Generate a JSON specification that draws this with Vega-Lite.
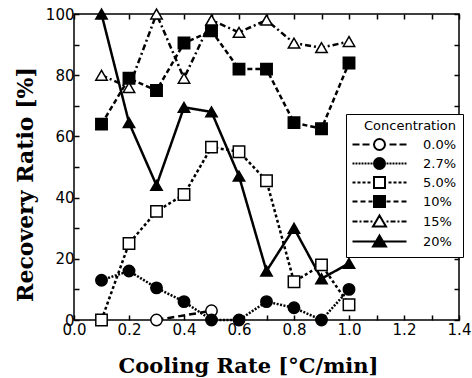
{
  "$schema": "https://vega.github.io/schema/vega-lite/v6.json",
  "width": 385,
  "height": 306,
  "autosize": "none",
  "padding": {"left": 74, "top": 14, "right": 13, "bottom": 58},
  "background": "white",
  "config": {"view": {"stroke": "black", "strokeWidth": 1.5}, "font": "DejaVu Sans"},
  "data": {"values": [
    {"x": 0.3, "y": 0, "c": "0.0%"}, {"x": 0.5, "y": 3, "c": "0.0%"},
    {"x": 0.1, "y": 13, "c": "2.7%"}, {"x": 0.2, "y": 16, "c": "2.7%"}, {"x": 0.3, "y": 10.5, "c": "2.7%"}, {"x": 0.4, "y": 6, "c": "2.7%"}, {"x": 0.5, "y": 0, "c": "2.7%"}, {"x": 0.6, "y": 0, "c": "2.7%"}, {"x": 0.7, "y": 6, "c": "2.7%"}, {"x": 0.8, "y": 4, "c": "2.7%"}, {"x": 0.9, "y": 0, "c": "2.7%"}, {"x": 1.0, "y": 10, "c": "2.7%"},
    {"x": 0.1, "y": 0, "c": "5.0%"}, {"x": 0.2, "y": 25, "c": "5.0%"}, {"x": 0.3, "y": 35.5, "c": "5.0%"}, {"x": 0.4, "y": 41, "c": "5.0%"}, {"x": 0.5, "y": 56.5, "c": "5.0%"}, {"x": 0.6, "y": 55, "c": "5.0%"}, {"x": 0.7, "y": 45.5, "c": "5.0%"}, {"x": 0.8, "y": 12.5, "c": "5.0%"}, {"x": 0.9, "y": 18, "c": "5.0%"}, {"x": 1.0, "y": 5, "c": "5.0%"},
    {"x": 0.1, "y": 64, "c": "10%"}, {"x": 0.2, "y": 79, "c": "10%"}, {"x": 0.3, "y": 75, "c": "10%"}, {"x": 0.4, "y": 90.5, "c": "10%"}, {"x": 0.5, "y": 94.5, "c": "10%"}, {"x": 0.6, "y": 82, "c": "10%"}, {"x": 0.7, "y": 82, "c": "10%"}, {"x": 0.8, "y": 64.5, "c": "10%"}, {"x": 0.9, "y": 62.5, "c": "10%"}, {"x": 1.0, "y": 84, "c": "10%"},
    {"x": 0.1, "y": 80, "c": "15%"}, {"x": 0.2, "y": 76, "c": "15%"}, {"x": 0.3, "y": 100, "c": "15%"}, {"x": 0.4, "y": 79, "c": "15%"}, {"x": 0.5, "y": 98, "c": "15%"}, {"x": 0.6, "y": 94, "c": "15%"}, {"x": 0.7, "y": 98, "c": "15%"}, {"x": 0.8, "y": 90.5, "c": "15%"}, {"x": 0.9, "y": 89, "c": "15%"}, {"x": 1.0, "y": 91, "c": "15%"},
    {"x": 0.1, "y": 100, "c": "20%"}, {"x": 0.2, "y": 64.5, "c": "20%"}, {"x": 0.3, "y": 44, "c": "20%"}, {"x": 0.4, "y": 69.5, "c": "20%"}, {"x": 0.5, "y": 68, "c": "20%"}, {"x": 0.6, "y": 47, "c": "20%"}, {"x": 0.7, "y": 16, "c": "20%"}, {"x": 0.8, "y": 30, "c": "20%"}, {"x": 0.9, "y": 13.5, "c": "20%"}, {"x": 1.0, "y": 18.5, "c": "20%"}
  ]},
  "layer": [
    {
      "mark": {"type": "line", "strokeWidth": 2.5, "color": "black"},
      "encoding": {
        "x": {"field": "x", "type": "quantitative",
          "scale": {"domain": [0, 1.4], "nice": false, "zero": false},
          "axis": {"values": [0, 0.1, 0.2, 0.3, 0.4, 0.5, 0.6, 0.7, 0.8, 0.9, 1.0, 1.1, 1.2, 1.3, 1.4],
            "labelExpr": "round(datum.value*10)%2==0 ? format(datum.value,'.1f') : ''",
            "tickSize": -5, "tickColor": "black", "tickWidth": 1.5, "domain": false, "grid": false,
            "labelFont": "DejaVu Sans", "labelFontSize": 15, "labelColor": "black", "labelPadding": 7,
            "labelFlush": false, "labelOverlap": false,
            "title": "Cooling Rate [°C/min]", "titleFont": "DejaVu Serif", "titleFontWeight": "bold",
            "titleFontSize": 21, "titleColor": "black", "titleX": 174, "titleY": 52, "titleBaseline": "alphabetic"}},
        "y": {"field": "y", "type": "quantitative",
          "scale": {"domain": [0, 100], "nice": false},
          "axis": {"values": [0, 10, 20, 30, 40, 50, 60, 70, 80, 90, 100],
            "labelExpr": "datum.value % 20 == 0 ? datum.label : ''",
            "tickSize": -5, "tickColor": "black", "tickWidth": 1.5, "domain": false, "grid": false,
            "labelFont": "DejaVu Sans", "labelFontSize": 15, "labelColor": "black", "labelPadding": 5,
            "labelFlush": false, "labelOverlap": false,
            "title": "Recovery Ratio [%]", "titleFont": "DejaVu Serif", "titleFontWeight": "bold",
            "titleFontSize": 22, "titleColor": "black", "titleX": -49, "titleY": 170, "titleBaseline": "middle", "titleAngle": -90}},
        "strokeDash": {"field": "c", "type": "nominal",
          "scale": {"domain": ["20%", "15%", "10%", "5.0%", "2.7%", "0.0%"],
            "range": [[1, 0], [6, 3, 2, 3], [5, 3], [3, 2.5], [2, 1.5], [7, 4]]},
          "legend": null}
      }
    },
    {
      "mark": {"type": "point", "stroke": "black", "strokeWidth": 1.5, "size": 130, "opacity": 1, "fillOpacity": 1},
      "encoding": {
        "x": {"field": "x", "type": "quantitative",
          "axis": {"orient": "top", "values": [0, 0.1, 0.2, 0.3, 0.4, 0.5, 0.6, 0.7, 0.8, 0.9, 1.0, 1.1, 1.2, 1.3, 1.4],
            "labels": false, "title": null, "tickSize": -5, "tickColor": "black", "tickWidth": 1.5, "domain": false, "grid": false}},
        "y": {"field": "y", "type": "quantitative",
          "axis": {"orient": "right", "values": [0, 10, 20, 30, 40, 50, 60, 70, 80, 90, 100],
            "labels": false, "title": null, "tickSize": -5, "tickColor": "black", "tickWidth": 1.5, "domain": false, "grid": false}},
        "shape": {"field": "c", "type": "nominal",
          "scale": {"domain": ["20%", "15%", "10%", "5.0%", "2.7%", "0.0%"],
            "range": ["triangle-up", "triangle-up", "square", "square", "circle", "circle"]},
          "legend": null},
        "fill": {"field": "c", "type": "nominal",
          "scale": {"domain": ["20%", "15%", "10%", "5.0%", "2.7%", "0.0%"],
            "range": ["black", "white", "black", "white", "black", "white"]},
          "legend": null}
      }
    },
    {
      "transform": [{"filter": "false"}],
      "mark": {"type": "point", "strokeWidth": 2, "size": 4, "opacity": 1, "fillOpacity": 1},
      "encoding": {
        "shape": {"field": "c", "type": "nominal",
          "scale": {"domain": ["0.0%", "2.7%", "5.0%", "10%", "15%", "20%"],
            "range": [
              "M-27,0H-20M-17,0H-10M10,0H17M20,0H27M-5.5,0A5.5,5.5,0,1,0,5.5,0A5.5,5.5,0,1,0,-5.5,0Z",
              "M-27,0H-25M-24,0H-22M-21,0H-19M-18,0H-16M-15,0H-13M-12,0H-10M-9,0H-7M7,0H9M10,0H12M13,0H15M16,0H18M19,0H21M22,0H24M25,0H27M-5.5,0A5.5,5.5,0,1,0,5.5,0A5.5,5.5,0,1,0,-5.5,0Z",
              "M-27,0H-24M-22,0H-19M-17,0H-14M-12,0H-9M9,0H12M14,0H17M19,0H22M24,0H27M-5.5,-5.5H5.5V5.5H-5.5Z",
              "M-27,0H-22M-19,0H-14M-11,0H-7M7,0H11M14,0H19M22,0H27M-5.5,-5.5H5.5V5.5H-5.5Z",
              "M-27,0H-22M-20,0H-18M-16,0H-11M-9,0H-7M7,0H9M11,0H16M18,0H20M22,0H27M0,-6L6.5,5H-6.5Z",
              "M-27,0H27M0,-6L6.5,5H-6.5Z"]},
          "legend": {"title": "Concentration", "orient": "none", "legendX": 272, "legendY": 100,
            "padding": 6, "strokeColor": "black", "fillColor": "white", "cornerRadius": 0,
            "titleFont": "DejaVu Sans", "titleFontSize": 13, "titleFontWeight": "normal", "titleColor": "black",
            "titlePadding": 5, "titleAnchor": "end",
            "labelFont": "DejaVu Sans", "labelFontSize": 13, "labelColor": "black",
            "symbolSize": 4, "symbolOffset": 21, "labelOffset": 37, "rowPadding": 0,
            "symbolStrokeWidth": 2}},
        "fill": {"field": "c", "type": "nominal",
          "scale": {"domain": ["0.0%", "2.7%", "5.0%", "10%", "15%", "20%"],
            "range": ["white", "black", "white", "black", "white", "black"]},
          "legend": {"title": "Concentration"}},
        "stroke": {"field": "c", "type": "nominal",
          "scale": {"domain": ["0.0%", "2.7%", "5.0%", "10%", "15%", "20%"],
            "range": ["black", "black", "black", "black", "black", "black"]},
          "legend": {"title": "Concentration"}}
      }
    }
  ],
  "resolve": {"axis": {"x": "independent", "y": "independent"}, "scale": {"shape": "independent", "fill": "independent", "stroke": "independent"}}
}
